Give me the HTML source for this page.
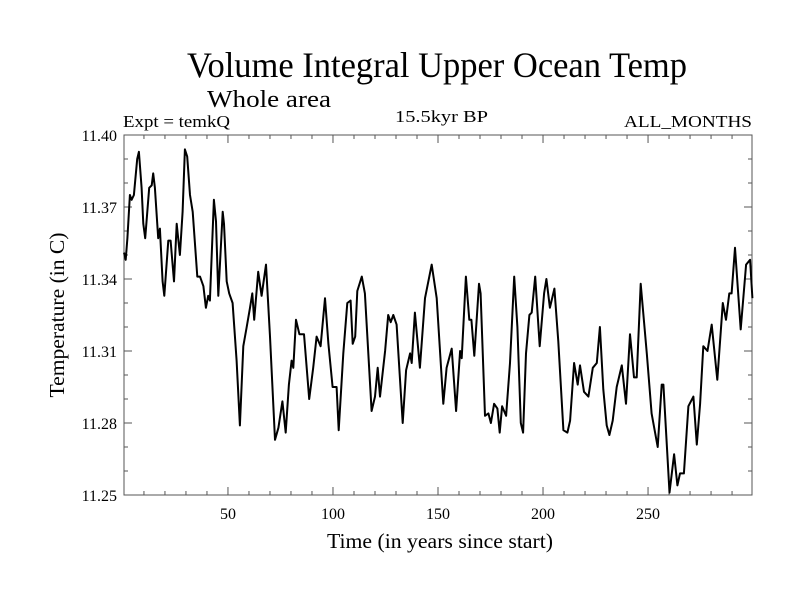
<!DOCTYPE html>
<html><head><meta charset="utf-8"><style>
html,body{margin:0;padding:0;background:#fff;}
svg{display:block;font-family:"Liberation Serif",serif;}
</style></head><body>
<svg id="chart" width="800" height="600" viewBox="0 0 800 600" xmlns="http://www.w3.org/2000/svg">
<rect width="800" height="600" fill="#fff"/>
<text x="187" y="77" font-size="36" textLength="500" lengthAdjust="spacingAndGlyphs">Volume Integral Upper Ocean Temp</text>
<text x="207" y="107" font-size="24" textLength="124" lengthAdjust="spacingAndGlyphs">Whole area</text>
<text x="123" y="127" font-size="17" textLength="107" lengthAdjust="spacingAndGlyphs">Expt = temkQ</text>
<text x="395" y="122" font-size="17" textLength="93" lengthAdjust="spacingAndGlyphs">15.5kyr BP</text>
<text x="624" y="127" font-size="17" textLength="128" lengthAdjust="spacingAndGlyphs">ALL_MONTHS</text>
<text transform="translate(64,315) rotate(-90)" text-anchor="middle" font-size="21" textLength="165" lengthAdjust="spacingAndGlyphs">Temperature (in C)</text>
<text x="440" y="548" text-anchor="middle" font-size="21" textLength="226" lengthAdjust="spacingAndGlyphs">Time (in years since start)</text>
<g id="axes"></g>
<rect x="124" y="135" width="628" height="360" fill="none" stroke="#555" stroke-width="1"/>
<g id="series"></g>
</svg>
<script>
const years = [0.5,1.3,2.1,3.3,4.1,5.2,6.8,7.6,8.9,9.7,10.6,12.5,13.7,14.4,15.2,16.8,17.6,18.9,19.7,21.6,22.7,24.3,25.6,27.1,28.4,29.5,30.6,31.9,33.2,35.4,36.7,38.3,39.5,40.6,41.4,43.3,44.3,45.4,47.5,48.1,49.4,50.6,52.2,54.1,55.7,57.3,58.9,60.5,61.6,62.5,64.4,66.0,68.1,70.0,72.4,74.0,75.9,77.5,79.0,80.3,81.1,82.4,84.0,86.2,88.7,90.6,92.2,94.1,96.2,97.8,99.8,101.7,102.7,104.9,106.8,108.4,109.4,110.6,111.6,113.7,115.2,118.4,120.0,121.3,122.4,124.8,126.3,127.5,128.7,130.3,133.2,134.8,136.7,137.5,139.0,141.4,143.8,147.0,149.4,152.5,154.1,156.5,158.6,160.5,161.3,163.3,164.9,165.9,167.3,169.5,170.3,172.4,174.0,175.2,176.7,178.3,179.4,180.5,182.4,184.3,186.3,187.8,189.4,190.5,191.9,193.5,194.6,196.3,198.4,200.5,201.6,203.3,205.4,207.3,209.7,211.6,212.9,214.8,216.5,217.6,219.5,221.6,223.7,225.6,227.1,228.7,230.3,231.6,233.2,235.1,237.5,239.5,241.4,243.3,244.6,246.5,249.4,251.7,254.6,256.5,257.3,260.2,262.4,264.0,265.2,267.1,269.2,271.6,273.2,274.8,276.3,278.3,280.3,283.0,285.6,287.1,288.7,289.8,291.4,294.1,296.7,298.6,299.7];
const temps = [11.351,11.348,11.357,11.375,11.373,11.375,11.390,11.393,11.378,11.363,11.357,11.378,11.379,11.384,11.378,11.357,11.361,11.339,11.333,11.356,11.356,11.339,11.363,11.350,11.368,11.394,11.391,11.375,11.368,11.341,11.341,11.337,11.328,11.333,11.331,11.373,11.364,11.333,11.368,11.363,11.339,11.334,11.330,11.306,11.279,11.312,11.320,11.328,11.334,11.323,11.343,11.333,11.346,11.316,11.273,11.278,11.289,11.276,11.296,11.306,11.303,11.323,11.317,11.317,11.290,11.303,11.316,11.312,11.332,11.313,11.295,11.295,11.277,11.309,11.330,11.331,11.313,11.316,11.335,11.341,11.334,11.285,11.291,11.303,11.291,11.310,11.325,11.322,11.325,11.321,11.280,11.302,11.309,11.305,11.326,11.303,11.332,11.346,11.332,11.288,11.303,11.311,11.285,11.310,11.307,11.341,11.323,11.323,11.308,11.338,11.334,11.283,11.284,11.280,11.288,11.286,11.276,11.287,11.283,11.305,11.341,11.320,11.280,11.276,11.309,11.325,11.326,11.341,11.312,11.334,11.340,11.328,11.336,11.314,11.277,11.276,11.281,11.305,11.296,11.304,11.293,11.291,11.303,11.305,11.320,11.294,11.279,11.275,11.281,11.295,11.304,11.288,11.317,11.299,11.299,11.338,11.309,11.284,11.270,11.296,11.296,11.251,11.267,11.254,11.259,11.259,11.287,11.291,11.271,11.288,11.312,11.310,11.321,11.298,11.330,11.323,11.334,11.334,11.353,11.319,11.346,11.348,11.332];
const xTickLabels = [50,100,150,200,250];
const yTickLabels = ["11.25","11.28","11.31","11.34","11.37","11.40"];

const NS = "http://www.w3.org/2000/svg";
const X0 = 124, X1 = 752, Y0 = 495, Y1 = 135;
const xMin = 0.5, xMax = 299.5, yMin = 11.25, yMax = 11.40;
function xs(v){ return X0 + (v - xMin) / (xMax - xMin) * (X1 - X0); }
function ys(v){ return Y0 - (v - yMin) / (yMax - yMin) * (Y0 - Y1); }
const axes = document.getElementById('axes');
function line(x1,y1,x2,y2,name){
  const l = document.createElementNS(NS,'line');
  l.setAttribute('x1',x1);l.setAttribute('y1',y1);l.setAttribute('x2',x2);l.setAttribute('y2',y2);
  l.setAttribute('stroke','#555');l.setAttribute('stroke-width','1');
  
  
  axes.appendChild(l);
}
for (let v = 10; v < 300; v += 10) {
  const major = v % 50 === 0; const len = major ? 8 : 4; const x = xs(v);
  line(x, Y0, x, Y0 - len, 'x-tick');
  line(x, Y1, x, Y1 + len, 'x-tick-top');
}
for (const v of xTickLabels) {
  const t = document.createElementNS(NS,'text');
  t.setAttribute('x', xs(v)); t.setAttribute('y', 519);
  t.setAttribute('text-anchor','middle'); t.setAttribute('font-size','16');
  t.textContent = v;
  
  
  axes.appendChild(t);
}
for (let i = 0; i <= 15; i++) {
  const v = yMin + i * 0.01; const major = i % 3 === 0; const len = major ? 8 : 4; const y = ys(v);
  line(X0, y, X0 + len, y, 'y-tick');
  line(X1, y, X1 - len, y, 'y-tick-right');
}
for (const s of yTickLabels) {
  const t = document.createElementNS(NS,'text');
  t.setAttribute('x', 117); t.setAttribute('y', ys(parseFloat(s)) + 6);
  t.setAttribute('text-anchor','end'); t.setAttribute('font-size','16');
  t.textContent = s;
  
  
  axes.appendChild(t);
}
const p = document.createElementNS(NS,'polyline');
p.setAttribute('points', years.map((y,i)=> xs(y).toFixed(1)+','+ys(temps[i]).toFixed(1)).join(' '));
p.setAttribute('fill','none'); p.setAttribute('stroke','#000'); p.setAttribute('stroke-width','2'); p.setAttribute('stroke-linejoin','round');


document.getElementById('series').appendChild(p);
</script>
</body></html>
